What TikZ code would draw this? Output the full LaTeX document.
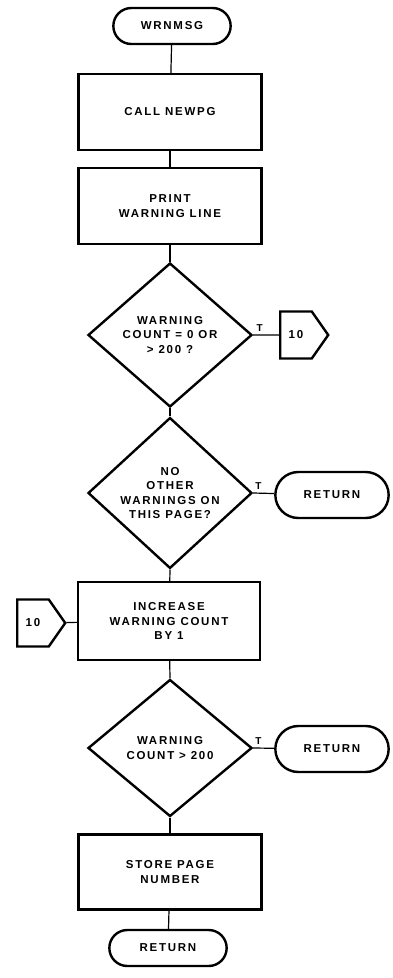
\documentclass[tikz,border=0pt]{standalone}
\usepackage{fontspec}
\setmainfont{Liberation Sans}[LetterSpace=15]
\usepackage{tikz}
\usetikzlibrary{shapes.geometric, shapes.misc, shapes.symbols, positioning}
\tikzstyle{terminal} = [rounded rectangle,
minimum width=124pt,
minimum height=36pt,
text centered,
draw=black, line width=2.4pt]
\tikzstyle{process} = [rectangle,
minimum width=183pt,
minimum height=76pt,
text centered, align=center,
draw=black, line width=2.4pt]
\tikzstyle{decision} = [diamond,
minimum width=164pt,
minimum height=144pt,
inner sep=0pt, align=center,
draw=black, line width=2.4pt]
\tikzstyle{offpage} = [signal, signal to=east,
signal pointer angle=110,
minimum width=48pt,
minimum height=47pt,
inner sep=2pt,
draw=black, line width=2.4pt]
\tikzstyle{line} = [line width=1.2pt]
\tikzstyle{flag} = [font=\bfseries\fontsize{10}{11}\selectfont, inner sep=1pt]

\begin{document}
\begin{tikzpicture}[x=1pt, y=-1pt, font=\bfseries\fontsize{11.5}{14.5}\selectfont]
            \useasboundingbox (0,0) rectangle (393,978);
            \node (start) [terminal] at (172,26) {WRNMSG};
            \node (newpg) [process] at (170,112) {CALL NEWPG};
            \node (print) [process] at (170,206) {PRINT\\WARNING LINE};
            \node (zero) [decision] at (170,335) {WARNING\\COUNT = 0 OR\\> 200 ?};
            \node (goto) [offpage] at (296,335) {10};
            \node (other) [decision] at (170,493) {NO\\OTHER\\WARNINGS ON\\THIS PAGE?};
            \node (ret1) [terminal, minimum width=120pt, minimum height=46pt] at (332,495) {RETURN};
            \node (incr) [process, minimum width=182pt, minimum height=78pt] at (169,621) {INCREASE\\WARNING COUNT\\BY 1};
            \node (label) [offpage] at (33,623) {10};
            \node (over) [decision, minimum height=137pt] at (170,748) {WARNING\\COUNT > 200};
            \node (ret2) [terminal, minimum width=120pt, minimum height=46pt] at (332,749) {RETURN};
            \node (store) [process, minimum height=75pt] at (170,872) {STORE PAGE\\NUMBER};
            \node (stop) [terminal] at (168,948) {RETURN};

            \draw [line] (start) -- (newpg);
            \draw [line] (newpg) -- (print);
            \draw [line] (print) -- (zero);
            \draw [line] (zero.east) -- node[flag, pos=0.25, above=2pt] {T} (goto);
            \draw [line] (zero.south) -- (other.north);
            \draw [line] (other.east) -- node[flag, pos=0.25, above=2pt] {T} (ret1);
            \draw [line] (other.south) -- (incr);
            \draw [line] (label) -- (incr);
            \draw [line] (incr) -- (over.north);
            \draw [line] (over.east) -- node[flag, pos=0.25, above=2pt] {T} (ret2);
            \draw [line] (over.south) -- (store);
            \draw [line] (store) -- (stop);
        \end{tikzpicture}
\end{document}
